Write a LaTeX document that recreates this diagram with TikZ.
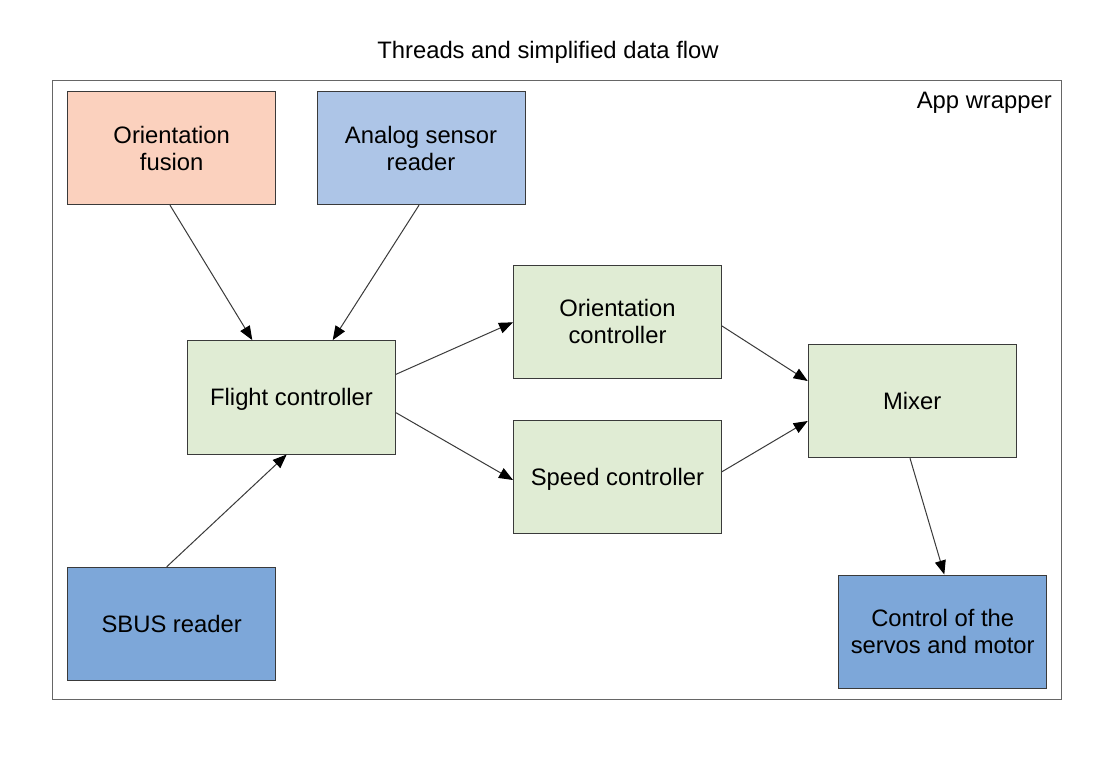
\documentclass[tikz,border=0pt]{standalone}
\usepackage{fontspec}
\setmainfont{Liberation Sans}
\usetikzlibrary{arrows.meta}
\definecolor{salmon}{HTML}{FBD1BE}
\definecolor{paleblue}{HTML}{ADC5E7}
\definecolor{palegreen}{HTML}{E0ECD4}
\definecolor{midblue}{HTML}{7DA7D9}
\definecolor{edgegray}{HTML}{3A3A3A}
\definecolor{framegray}{HTML}{666666}
\tikzset{
  box/.style={draw=edgegray, line width=1pt, minimum width=208pt, minimum height=113.4pt,
    inner sep=0pt, align=center, font=\fontsize{23.8}{27}\selectfont},
  oneline/.style={text height=17pt, text depth=0pt},
  flow/.style={draw=edgegray, line width=1pt, -{Triangle[length=14pt,width=11pt,color=black]}},
  lbl/.style={inner sep=0pt, font=\fontsize{23.8}{27}\selectfont}
}
\begin{document}
\begin{tikzpicture}[x=1pt,y=-1pt]
\useasboundingbox (0,0) rectangle (1105,756);
\fill[white] (0,0) rectangle (1105,756);
\node[lbl, oneline] (title) at (548,50) {Threads and simplified data flow};
\draw[framegray, line width=1pt] (52.3,80) rectangle (1061.7,699.5);
\node[lbl, oneline, anchor=east] (wrap) at (1052,99.5) {App wrapper};

\node[box, fill=salmon] (of) at (171.7,148) {Orientation\\fusion};
\node[box, fill=paleblue] (as) at (421,148) {Analog sensor\\reader};
\node[box, oneline, fill=palegreen] (fc) at (291.5,397.3) {Flight controller};
\node[box, fill=palegreen] (oc) at (617.5,321.7) {Orientation\\controller};
\node[box, oneline, fill=palegreen] (sc) at (617.5,477) {Speed controller};
\node[box, oneline, fill=palegreen] (mx) at (912.2,401) {Mixer};
\node[box, oneline, fill=midblue] (sb) at (171.7,624) {SBUS reader};
\node[box, fill=midblue] (ct) at (942.7,631.7) {Control of the\\servos and motor};

\draw[flow] ([xshift=-1.7pt]of.south) -- ([xshift=-39.2pt]fc.north);
\draw[flow] ([xshift=-2pt]as.south) -- ([xshift=41.2pt]fc.north);
\draw[flow] ([xshift=-5pt]sb.north) -- ([xshift=-4.8pt]fc.south);
\draw[flow] ([yshift=23pt]fc.east) -- ([yshift=-0.6pt]oc.west);
\draw[flow] ([yshift=-15.4pt]fc.east) -- ([yshift=-3pt]sc.west);
\draw[flow] ([yshift=-4.3pt]oc.east) -- ([yshift=20pt]mx.west);
\draw[flow] ([yshift=5.3pt]sc.east) -- ([yshift=-20pt]mx.west);
\draw[flow] ([xshift=-2.2pt]mx.south) -- ([xshift=1.6pt]ct.north);
\end{tikzpicture}
\end{document}
